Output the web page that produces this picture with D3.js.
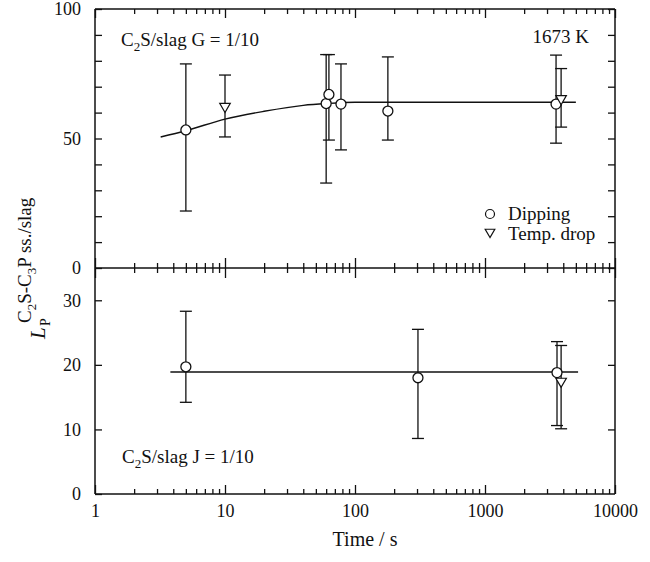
<!DOCTYPE html>
<html>
<head>
<meta charset="utf-8">
<script src="https://cdn.jsdelivr.net/npm/d3@7"></script>
<style>
  body { margin: 0; background: #fff; }
  svg text { font-family: "Liberation Serif", "Times New Roman", serif; fill: #111; }
  .frame line { stroke: #111; stroke-width: 1.5; }
  .tick line { stroke: #111; stroke-width: 1.3; }
</style>
</head>
<body>
<div id="chart"></div>
<script>
// Top panel, C2S/slag G = 1/10
var dipG_t  = [5, 60, 63, 78, 179, 3520];
var dipG_v  = [53.3, 63.5, 67.0, 63.3, 60.6, 63.3];
var dipG_lo = [22, 32.8, 49.4, 45.6, 49.4, 48.2];
var dipG_hi = [78.8, 82.4, 82.4, 78.8, 81.5, 82.2];
var dropG_t  = [10, 3850];
var dropG_v  = [62, 65];
var dropG_lo = [50.6, 54.4];
var dropG_hi = [74.5, 77];
var fitG_t = [3.2, 5, 10, 20, 40, 60, 100, 300, 1000, 5000];
var fitG_v = [50.6, 53, 57.5, 60.5, 62.8, 63.5, 64, 64, 64, 64];

// Bottom panel, C2S/slag J = 1/10
var dipJ_t  = [5, 305, 3580];
var dipJ_v  = [19.7, 18.0, 18.8];
var dipJ_lo = [14.2, 8.6, 10.6];
var dipJ_hi = [28.3, 25.5, 23.6];
var dropJ_t  = [3850];
var dropJ_v  = [17.3];
var dropJ_lo = [10.1];
var dropJ_hi = [23.0];
var fitJ_t = [3.8, 5200];
var fitJ_v = [18.9, 18.9];

var xTicks = [1, 10, 100, 1000, 10000];
var yTopTicks = [0, 10, 20, 30, 40, 50, 60, 70, 80, 90, 100];
var yBotTicks = [0, 10, 20, 30];

var width = 650, height = 562;
// note: "top" is a read-only global in browsers, so use other names
var pLeft = 95, pRight = 615, pTop = 9, pMid = 268, pBottom = 494;

var x = d3.scaleLog().domain([1, 10000]).range([pLeft, pRight]);
var yTop = d3.scaleLinear().domain([0, 100]).range([pMid, pTop]);
var yBot = d3.scaleLinear().domain([0, 35]).range([pBottom, pMid]);

var svg = d3.select("#chart").append("svg")
    .attr("width", width)
    .attr("height", height);

// minor ticks of the log axis (2..9 in each decade)
var minor = [];
for (var d = 1; d < 10000; d *= 10) {
    for (var k = 2; k < 10; k++) minor.push(d * k);
}
var noLabel = function() { return ""; };

// frame
var frame = svg.append("g").attr("class", "frame");
frame.append("line").attr("x1", pLeft).attr("x2", pRight).attr("y1", pTop).attr("y2", pTop);
frame.append("line").attr("x1", pLeft).attr("x2", pRight).attr("y1", pMid).attr("y2", pMid);
frame.append("line").attr("x1", pLeft).attr("x2", pRight).attr("y1", pBottom).attr("y2", pBottom);
frame.append("line").attr("x1", pLeft).attr("x2", pLeft).attr("y1", pTop).attr("y2", pBottom);
frame.append("line").attr("x1", pRight).attr("x2", pRight).attr("y1", pTop).attr("y2", pBottom);

function addAxis(axis, tx, ty) {
    var g = svg.append("g")
        .attr("transform", "translate(" + tx + "," + ty + ")")
        .call(axis);
    g.select(".domain").remove();
    g.selectAll("text").style("font-size", "18px");
    return g;
}

// bottom x axis, ticks point inward (up)
addAxis(d3.axisBottom(x).tickValues(xTicks).tickSizeInner(-9).tickSizeOuter(0)
    .tickPadding(10).tickFormat(d3.format("d")), 0, pBottom);
addAxis(d3.axisBottom(x).tickValues(minor).tickSizeInner(-5).tickSizeOuter(0).tickFormat(noLabel), 0, pBottom);

// top x axis, ticks point down
addAxis(d3.axisTop(x).tickValues(xTicks).tickSizeInner(-9).tickSizeOuter(0).tickFormat(noLabel), 0, pTop);
addAxis(d3.axisTop(x).tickValues(minor).tickSizeInner(-5).tickSizeOuter(0).tickFormat(noLabel), 0, pTop);

// shared middle line, ticks cross both ways
addAxis(d3.axisTop(x).tickValues(xTicks).tickSizeInner(10).tickSizeOuter(0).tickFormat(noLabel), 0, pMid);
addAxis(d3.axisBottom(x).tickValues(xTicks).tickSizeInner(10).tickSizeOuter(0).tickFormat(noLabel), 0, pMid);
addAxis(d3.axisTop(x).tickValues(minor).tickSizeInner(5).tickSizeOuter(0).tickFormat(noLabel), 0, pMid);
addAxis(d3.axisBottom(x).tickValues(minor).tickSizeInner(5).tickSizeOuter(0).tickFormat(noLabel), 0, pMid);

// y axes, labels only every 50 on top panel
addAxis(d3.axisLeft(yTop).tickValues(yTopTicks).tickSizeInner(-7).tickSizeOuter(0).tickPadding(14)
    .tickFormat(function(v) { return v % 50 === 0 ? v : ""; }), pLeft, 0);
addAxis(d3.axisRight(yTop).tickValues(yTopTicks).tickSizeInner(-7).tickSizeOuter(0).tickFormat(noLabel), pRight, 0);
addAxis(d3.axisLeft(yBot).tickValues(yBotTicks).tickSizeInner(-7).tickSizeOuter(0).tickPadding(14), pLeft, 0);
addAxis(d3.axisRight(yBot).tickValues(yBotTicks.slice(1)).tickSizeInner(-7).tickSizeOuter(0).tickFormat(noLabel), pRight, 0);

// fit curves
function fitLine(ts, vs, y) {
    var pts = ts.map(function(t, i) { return [x(t), y(vs[i])]; });
    svg.append("path")
        .attr("d", d3.line().curve(d3.curveMonotoneX)(pts))
        .attr("fill", "none")
        .attr("stroke", "#111")
        .attr("stroke-width", 1.4);
}
fitLine(fitG_t, fitG_v, yTop);
fitLine(fitJ_t, fitJ_v, yBot);

// error bars + markers
var triangle = d3.symbol().type(d3.symbolTriangle).size(48);

function errorBars(ts, lo, hi, y) {
    var g = svg.append("g").attr("stroke", "#111").attr("stroke-width", 1.3);
    ts.forEach(function(t, i) {
        var px = x(t);
        g.append("line").attr("x1", px).attr("x2", px).attr("y1", y(lo[i])).attr("y2", y(hi[i]));
        g.append("line").attr("x1", px - 6).attr("x2", px + 6).attr("y1", y(lo[i])).attr("y2", y(lo[i]));
        g.append("line").attr("x1", px - 6).attr("x2", px + 6).attr("y1", y(hi[i])).attr("y2", y(hi[i]));
    });
}

function circles(ts, vs, y) {
    svg.append("g").selectAll("circle")
        .data(ts)
        .join("circle")
        .attr("cx", function(t) { return x(t); })
        .attr("cy", function(t, i) { return y(vs[i]); })
        .attr("r", 5)
        .attr("fill", "#fff")
        .attr("stroke", "#111")
        .attr("stroke-width", 1.3);
}

function triangles(ts, vs, y) {
    svg.append("g").selectAll("path")
        .data(ts)
        .join("path")
        .attr("d", triangle)
        .attr("transform", function(t, i) {
            return "translate(" + x(t) + "," + (y(vs[i]) - 1) + ") rotate(180)";
        })
        .attr("fill", "#fff")
        .attr("stroke", "#111")
        .attr("stroke-width", 1.2);
}

errorBars(dipG_t, dipG_lo, dipG_hi, yTop);
errorBars(dropG_t, dropG_lo, dropG_hi, yTop);
errorBars(dipJ_t, dipJ_lo, dipJ_hi, yBot);
errorBars(dropJ_t, dropJ_lo, dropJ_hi, yBot);
circles(dipG_t, dipG_v, yTop);
triangles(dropG_t, dropG_v, yTop);
circles(dipJ_t, dipJ_v, yBot);
triangles(dropJ_t, dropJ_v, yBot);

// panel labels, with subscript 2
function panelLabel(px, py, letter) {
    var t = svg.append("text").attr("x", px).attr("y", py).style("font-size", "19px");
    t.append("tspan").text("C");
    t.append("tspan").attr("dy", 5).style("font-size", "13px").text("2");
    t.append("tspan").attr("dy", -5).text("S/slag " + letter + " = 1/10");
}
panelLabel(121, 46, "G");
panelLabel(122, 463, "J");

svg.append("text").attr("x", 589).attr("y", 43).attr("text-anchor", "end")
    .style("font-size", "19px").text("1673 K");

// legend
svg.append("circle").attr("cx", 490).attr("cy", 214).attr("r", 4.5)
    .attr("fill", "#fff").attr("stroke", "#111").attr("stroke-width", 1.2);
svg.append("path").attr("d", d3.symbol().type(d3.symbolTriangle).size(40))
    .attr("transform", "translate(490,232) rotate(180)")
    .attr("fill", "#fff").attr("stroke", "#111").attr("stroke-width", 1.2);
svg.append("text").attr("x", 508).attr("y", 220).style("font-size", "19px").text("Dipping");
svg.append("text").attr("x", 508).attr("y", 240).style("font-size", "19px").text("Temp. drop");

// x title
svg.append("text").attr("x", 365).attr("y", 546).attr("text-anchor", "middle")
    .style("font-size", "20px").text("Time / s");

// y title: L sub P sup C2S-C3P ss./slag
var yl = svg.append("g").attr("transform", "translate(45,339) rotate(-90)");
yl.append("text").attr("x", 0).attr("y", 0).style("font-size", "21px")
    .style("font-style", "italic").text("L");
yl.append("text").attr("x", 13).attr("y", 5).style("font-size", "14px").text("P");
var sup = yl.append("text").attr("x", 16).attr("y", -14).style("font-size", "19px");
sup.append("tspan").text("C");
sup.append("tspan").attr("dy", 5).style("font-size", "13px").text("2");
sup.append("tspan").attr("dy", -5).text("S-C");
sup.append("tspan").attr("dy", 5).style("font-size", "13px").text("3");
sup.append("tspan").attr("dy", -5).text("P ss./slag");
</script>
</body>
</html>
